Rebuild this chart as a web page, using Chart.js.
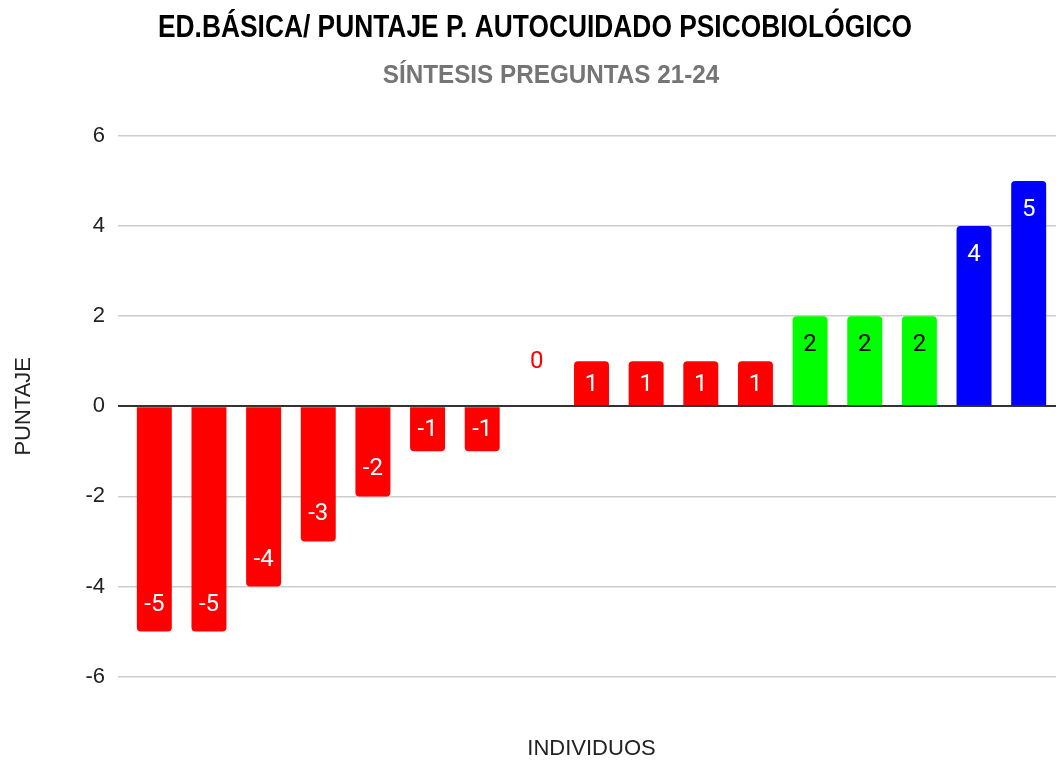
<!DOCTYPE html>
<html>
<head>
<meta charset="utf-8">
<script src="https://cdn.jsdelivr.net/npm/chart.js@4.4.1/dist/chart.umd.min.js"></script>
<style>
  html, body { margin: 0; padding: 0; background: #ffffff; }
  #wrap { width: 1061px; height: 764px; }
</style>
</head>
<body>
<div id="wrap"><canvas id="puntajeChart"></canvas></div>
<script>
// individuos y su puntaje (síntesis preguntas 21-24)
const individuos = ['1', '2', '3', '4', '5', '6', '7', '8', '9', '10', '11', '12', '13', '14', '15', '16', '17'];
const puntajes = [-5, -5, -4, -3, -2, -1, -1, 0, 1, 1, 1, 1, 2, 2, 2, 4, 5];
const yTicks = [-6, -4, -2, 0, 2, 4, 6];

const tituloTxt = 'ED.BÁSICA/ PUNTAJE P. AUTOCUIDADO PSICOBIOLÓGICO';
const subtituloTxt = 'SÍNTESIS PREGUNTAS 21-24';

function barColor(v) {
    if (v >= 4) return '#0000ff';
    if (v === 2) return '#00ff00';
    return '#ff0000';
}

function labelColor(v) {
    if (v === 0) return '#ff0000';
    if (v === 2) return '#000000';
    return '#ffffff';
}

// condensed bold titles (the original uses a narrow face)
const titles = {
    id: 'titles',
    afterDraw(chart) {
        const c = chart.ctx;
        c.save();
        c.textAlign = 'center';
        c.textBaseline = 'alphabetic';

        c.font = "bold 31px 'Liberation Sans', Arial";
        c.fillStyle = '#000000';
        c.translate(535, 37);
        c.scale(0.85, 1);
        c.fillText(tituloTxt, 0, 0);
        c.restore();

        c.save();
        c.textAlign = 'center';
        c.textBaseline = 'alphabetic';
        c.font = "bold 25px 'Liberation Sans', Arial";
        c.fillStyle = '#757575';
        c.translate(551, 83);
        c.scale(0.97, 1);
        c.fillText(subtituloTxt, 0, 0);
        c.restore();
    }
};

const barLabels = {
    id: 'barLabels',
    afterDatasetsDraw(chart) {
        const c = chart.ctx;
        const meta = chart.getDatasetMeta(0);
        c.save();
        c.font = '24px Roboto';
        c.textAlign = 'center';
        c.textBaseline = 'middle';
        meta.data.forEach((bar, i) => {
            const v = puntajes[i];
            const h = Math.abs(bar.base - bar.y);
            let y;
            if (v === 0) {
                y = bar.base - 44;
            } else if (v > 0) {
                y = bar.y + Math.min(29, h / 2 + 2);
            } else {
                y = bar.y - Math.min(27, h / 2 - 1);
            }
            c.fillStyle = labelColor(v);
            c.fillText(String(v), bar.x, y);
        });
        c.restore();
    }
};

const ctx = document.getElementById('puntajeChart').getContext('2d');
new Chart(ctx, {
    type: 'bar',
    data: {
        labels: individuos,
        datasets: [{
            label: 'Puntaje',
            data: puntajes,
            backgroundColor: puntajes.map(barColor),
            borderRadius: 4,
            borderSkipped: 'start',
            barPercentage: 0.64,
            categoryPercentage: 1
        }]
    },
    options: {
        responsive: true,
        maintainAspectRatio: false,
        animation: false,
        layout: { padding: { left: 8, right: 5, top: 136, bottom: 2 } },
        plugins: {
            legend: { display: false },
            tooltip: { enabled: false },
            title: { display: false }
        },
        scales: {
            x: {
                ticks: { display: false },
                grid: { display: false },
                border: { display: false },
                title: {
                    display: true,
                    text: 'INDIVIDUOS',
                    color: '#222222',
                    font: { family: "'Liberation Sans', Arial", size: 22 },
                    padding: { top: 51, bottom: 0 }
                }
            },
            y: {
                min: -6,
                max: 6,
                afterBuildTicks(scale) {
                    scale.ticks = yTicks.map(v => ({ value: v }));
                },
                afterFit(scale) {
                    scale.width = 119;
                },
                ticks: {
                    color: '#222222',
                    padding: 13,
                    font: { family: "'Liberation Sans', Arial", size: 22 }
                },
                grid: {
                    color: c => c.tick && c.tick.value === 0 ? '#333333' : '#cccccc',
                    lineWidth: c => c.tick && c.tick.value === 0 ? 2 : 1.5,
                    tickLength: 9
                },
                border: { display: false },
                title: {
                    display: true,
                    text: 'PUNTAJE',
                    color: '#222222',
                    font: { family: "'Liberation Sans', Arial", size: 22 },
                    padding: { top: 3, bottom: 0 }
                }
            }
        }
    },
    plugins: [barLabels, titles]
});
</script>
</body>
</html>
